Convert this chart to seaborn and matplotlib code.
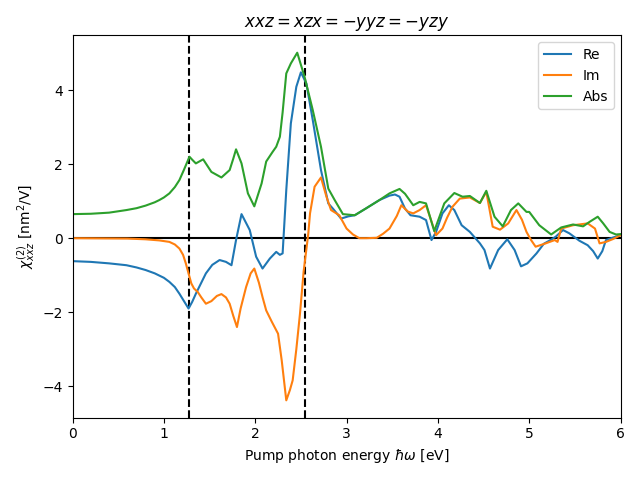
import matplotlib
matplotlib.use("Agg")
import matplotlib.pyplot as plt
import seaborn as sns
import pandas as pd

re_x = [0, 0.2, 0.4, 0.59, 0.7, 0.8, 0.9, 1.0, 1.06, 1.12, 1.17, 1.22, 1.27, 1.31, 1.35, 1.40, 1.46, 1.53, 1.61, 1.68, 1.74, 1.79, 1.85, 1.94, 2.01, 2.08, 2.16, 2.23, 2.27, 2.30, 2.34, 2.39, 2.45, 2.50, 2.56, 2.63, 2.72, 2.80, 2.85, 2.94, 3.02, 3.09, 3.21, 3.36, 3.47, 3.53, 3.58, 3.64, 3.70, 3.80, 3.87, 3.93, 3.98, 4.05, 4.12, 4.18, 4.26, 4.35, 4.46, 4.51, 4.57, 4.66, 4.76, 4.84, 4.91, 4.98, 5.08, 5.16, 5.24, 5.29, 5.37, 5.44, 5.55, 5.64, 5.70, 5.75, 5.80, 5.84, 5.92, 6.0]
re_y = [-0.62, -0.64, -0.68, -0.73, -0.79, -0.86, -0.95, -1.07, -1.18, -1.32, -1.50, -1.70, -1.90, -1.72, -1.50, -1.25, -0.95, -0.72, -0.59, -0.64, -0.73, -0.05, 0.65, 0.22, -0.50, -0.82, -0.55, -0.37, -0.45, -0.41, 1.30, 3.10, 4.09, 4.48, 4.18, 3.19, 1.84, 0.94, 0.80, 0.53, 0.59, 0.62, 0.80, 1.03, 1.15, 1.18, 1.12, 0.80, 0.62, 0.58, 0.49, -0.05, 0.17, 0.67, 0.89, 0.76, 0.35, 0.17, -0.14, -0.32, -0.82, -0.32, -0.03, -0.32, -0.76, -0.68, -0.41, -0.15, -0.04, 0.04, 0.22, 0.13, -0.07, -0.19, -0.35, -0.55, -0.35, -0.05, 0.02, 0.08]

im_x = [0, 0.6, 0.8, 0.95, 1.06, 1.12, 1.17, 1.21, 1.24, 1.27, 1.30, 1.33, 1.37, 1.41, 1.46, 1.52, 1.58, 1.63, 1.68, 1.72, 1.76, 1.80, 1.84, 1.90, 1.95, 1.99, 2.04, 2.08, 2.12, 2.18, 2.25, 2.29, 2.34, 2.38, 2.41, 2.45, 2.49, 2.53, 2.55, 2.58, 2.60, 2.65, 2.72, 2.78, 2.83, 2.92, 3.00, 3.07, 3.14, 3.22, 3.33, 3.40, 3.47, 3.55, 3.60, 3.67, 3.73, 3.80, 3.87, 3.93, 3.98, 4.05, 4.10, 4.16, 4.24, 4.35, 4.46, 4.53, 4.60, 4.68, 4.77, 4.86, 4.92, 4.97, 5.02, 5.07, 5.18, 5.28, 5.31, 5.35, 5.48, 5.64, 5.72, 5.77, 5.84, 5.92, 6.0]
im_y = [0.0, -0.01, -0.03, -0.06, -0.10, -0.17, -0.28, -0.45, -0.68, -0.95, -1.22, -1.36, -1.45, -1.60, -1.77, -1.70, -1.56, -1.51, -1.60, -1.77, -2.10, -2.40, -1.90, -1.32, -0.95, -0.82, -1.20, -1.59, -1.95, -2.25, -2.58, -3.30, -4.38, -4.10, -3.84, -3.00, -2.04, -0.90, -0.50, 0.10, 0.67, 1.39, 1.64, 1.12, 0.76, 0.62, 0.26, 0.10, 0.0, 0.0, 0.01, 0.12, 0.26, 0.60, 0.89, 0.72, 0.67, 0.76, 0.89, 0.45, 0.08, 0.26, 0.55, 0.85, 1.07, 1.10, 0.95, 1.25, 0.31, 0.23, 0.40, 0.76, 0.50, 0.17, -0.05, -0.23, -0.14, -0.05, -0.10, 0.26, 0.35, 0.40, 0.26, -0.14, -0.10, -0.02, 0.08]

abs_x = [0, 0.2, 0.4, 0.59, 0.7, 0.8, 0.9, 0.95, 1.0, 1.06, 1.12, 1.17, 1.22, 1.28, 1.31, 1.35, 1.43, 1.52, 1.63, 1.72, 1.76, 1.79, 1.85, 1.92, 1.99, 2.07, 2.12, 2.19, 2.23, 2.27, 2.30, 2.34, 2.39, 2.46, 2.54, 2.63, 2.72, 2.80, 2.87, 2.96, 3.09, 3.21, 3.36, 3.47, 3.58, 3.64, 3.73, 3.80, 3.87, 3.96, 4.07, 4.18, 4.27, 4.35, 4.46, 4.53, 4.62, 4.71, 4.80, 4.88, 4.97, 5.0, 5.11, 5.24, 5.35, 5.48, 5.59, 5.66, 5.75, 5.81, 5.88, 5.95, 6.0]
abs_y = [0.65, 0.66, 0.69, 0.76, 0.81, 0.88, 0.97, 1.03, 1.10, 1.21, 1.38, 1.57, 1.85, 2.20, 2.12, 2.02, 2.13, 1.79, 1.64, 1.84, 2.15, 2.40, 2.02, 1.21, 0.86, 1.48, 2.07, 2.33, 2.47, 2.74, 3.40, 4.45, 4.72, 5.01, 4.36, 3.46, 2.47, 1.34, 1.03, 0.65, 0.62, 0.80, 1.03, 1.21, 1.33, 1.20, 0.89, 0.98, 0.94, 0.19, 0.94, 1.22, 1.12, 1.14, 0.95, 1.28, 0.58, 0.32, 0.76, 0.94, 0.71, 0.71, 0.35, 0.10, 0.29, 0.37, 0.32, 0.44, 0.58, 0.40, 0.17, 0.10, 0.11]

vlines = [1.27, 2.54]

fig, ax = plt.subplots(figsize=(6.4, 4.8), dpi=100)
ax.axhline(0, color="black", lw=1.5, zorder=1)
for v in vlines:
    ax.axvline(v, color="black", ls="--", lw=1.5, zorder=1)

colors = sns.color_palette("tab10")
for xs, ys, lab, c in [(re_x, re_y, "Re", colors[0]), (im_x, im_y, "Im", colors[1]), (abs_x, abs_y, "Abs", colors[2])]:
    df = pd.DataFrame({"x": xs, "y": ys})
    sns.lineplot(data=df, x="x", y="y", ax=ax, label=lab, color=c, lw=1.5, sort=False, zorder=2)

ax.set_xlim(0, 6)
ax.set_title(r"$xxz = xzx = -yyz = -yzy$")
ax.set_xlabel(r"Pump photon energy $\hbar\omega$ [eV]")
ax.set_ylabel(r"$\chi^{(2)}_{xxz}$ [nm$^2$/V]")
ax.legend(loc="upper right")
fig.tight_layout()
fig.savefig("out.png", dpi=100)
